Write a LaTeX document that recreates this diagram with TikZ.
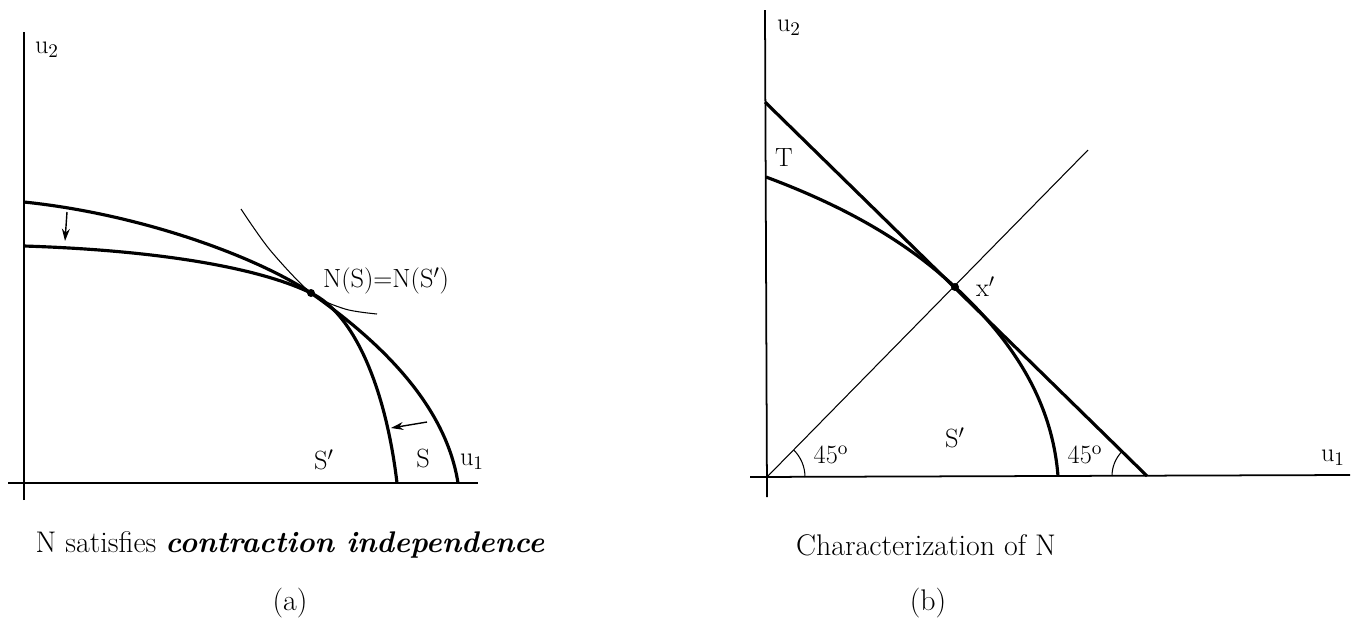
\documentclass[tikz,border=0pt]{standalone}
\usetikzlibrary{arrows.meta,calc}
\begin{document}
\begin{tikzpicture}[x=0.02cm, y=-0.02cm,
  axis/.style={line width=1pt},
  frontier/.style={line width=1.8pt},
  thinline/.style={line width=0.6pt},
  dot/.style={circle, fill, inner sep=0pt, minimum size=0.16cm},
  lbl/.style={font=\fontsize{15}{18}\selectfont, inner sep=1pt},
  caption/.style={font=\fontsize{17}{20}\selectfont},
  move/.style={line width=0.8pt, -{Stealth[length=7pt,width=4.5pt]}}
]
\useasboundingbox (0,0) rectangle (1357,637);

% (a) contraction independence
\coordinate (Oa) at (24,483);
\draw[axis] (8,483) -- (478,483);
\draw[axis] (24,500) -- (24,32);
\node[lbl] (u2a) at (47,50) {u$_2$};
\node[lbl] (u1a) at (472,462) {u$_1$};

\node[dot] (NSa) at (311,293) {};
\coordinate (Sa0) at (24,202);
\coordinate (Sa1) at (458,483);
\coordinate (Spa0) at (24,246);
\coordinate (Spa1) at (397,483);
\draw[frontier] (Sa0) .. controls (140,214) and (255,256) .. (NSa.center)
  .. controls (372,336) and (445,400) .. (Sa1);
\draw[frontier] (Spa0) .. controls (150,250) and (255,266) .. (NSa.center)
  .. controls (355,314) and (386,390) .. (Spa1);
\draw[thinline] plot[smooth] coordinates {(241,209) (270,250) (311,293) (345,309) (377,314)};

\coordinate (dn0) at (67,212);
\coordinate (dn1) at (65,241);
\draw[move] (dn0) -- (dn1);
\coordinate (lf0) at (427,422);
\coordinate (lf1) at (391,428);
\draw[move] (lf0) -- (lf1);

\node[lbl, anchor=west] (NSlbl) at (321,281) {N(S)=N(S$'$)};
\node[lbl] (Spa) at (324,460) {S$'$};
\node[lbl] (Sa) at (423,458) {S};

\node[caption] (capa) at (290,545) {N satisfies \textbf{\textit{contraction independence}}};
\node[caption] (taga) at (290,603) {(a)};

% (b) characterization
\coordinate (Ob) at (767,477);
\draw[axis] (750,477) -- (1350,475);
\draw[axis] (767,497) -- (765,10);
\node[lbl] (u2b) at (789,28) {u$_2$};
\node[lbl] (u1b) at (1333,458) {u$_1$};

\node[dot] (xb) at (955,287) {};
\coordinate (Tb0) at (765,102);
\coordinate (Tb1) at (1147,476);
\draw[frontier] (Tb0) -- (Tb1);
\coordinate (Cb0) at (766,177);
\coordinate (Cb1) at (1058,476);
\draw[frontier] (Cb0) .. controls (860,212) and (915,250) .. (xb.center)
  .. controls (1012,340) and (1052,400) .. (Cb1);
\coordinate (Db1) at (1088,150);
\draw[thinline] (Ob) -- (Db1);

\draw[thinline] ($(Ob)+(38,0)$) arc[start angle=0, end angle=-45, radius=38];
\draw[thinline] ($(Tb1)+(-35,0)$) arc[start angle=180, end angle=225, radius=35];

\node[lbl] (Tlbl) at (784,158) {T};
\node[lbl, anchor=west] (xlbl) at (974,287) {x$'$};
\node[lbl] (Spb) at (955,438) {S$'$};
\node[lbl] (ang1) at (831,455) {45$^{\mathrm{o}}$};
\node[lbl] (ang2) at (1085,455) {45$^{\mathrm{o}}$};

\node[caption] (capb) at (926,545) {Characterization of N};
\node[caption] (tagb) at (928,603) {(b)};
\end{tikzpicture}
\end{document}
